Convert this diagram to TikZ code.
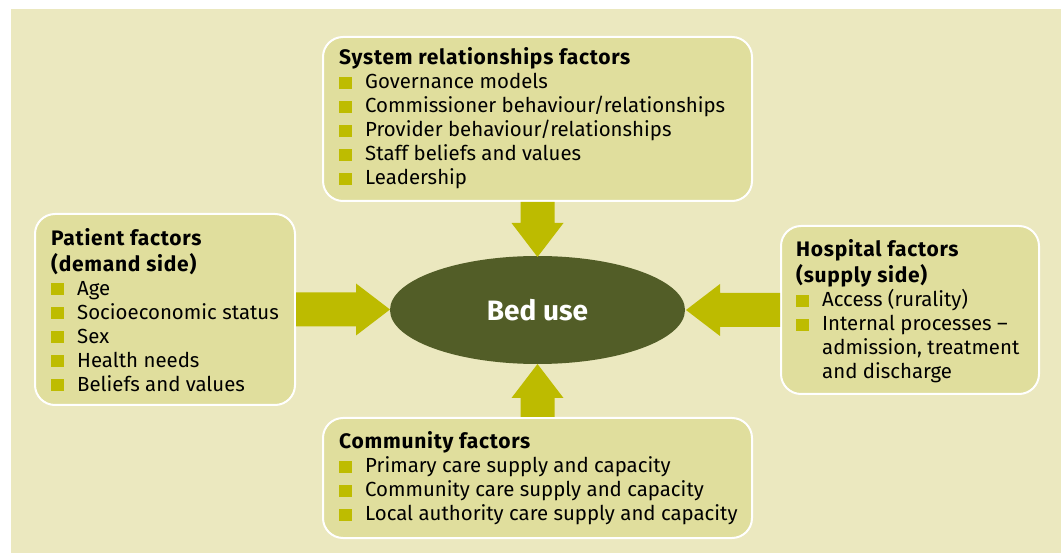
\documentclass[tikz,border=0pt]{standalone}
\usepackage{fontspec}
\setmainfont{Fira Sans}
\usetikzlibrary{shapes.geometric}

\definecolor{pagebg}{HTML}{EBE8BF}
\definecolor{boxfill}{HTML}{E0DE9D}
\definecolor{bulletcol}{HTML}{BEBC00}
\definecolor{arrowcol}{HTML}{BDBB00}
\definecolor{bedcol}{HTML}{525D27}

\newcommand{\bul}{\textcolor{bulletcol}{\rule{13pt}{12pt}}}
\newcommand{\boxtitle}[1]{\multicolumn{2}{@{}l@{}}{\fontsize{21}{24}\selectfont\bfseries\addfontfeature{LetterSpace=3.5}#1}}
% start anchor, angle, shaft length
\newcommand{\blockarrow}[3]{%
  \fill[arrowcol,shift={(#1)},rotate=#2] (0,-17) -- (#3,-17) -- (#3,-26) -- ({#3+34},0)
    -- (#3,26) -- (#3,17) -- (0,17) -- cycle;}

\tikzset{
  factorbox/.style={draw=white, line width=2pt, fill=boxfill, rounded corners=20pt, inner sep=0pt},
  factortext/.style={anchor=base west, inner sep=0pt, font=\fontsize{20.4}{24}\selectfont},
}

\begin{document}
\begin{tikzpicture}[x=1pt,y=-1pt]
  % page and background
  \fill[white] (0,0) rectangle (1061,553);
  \useasboundingbox (0,0) rectangle (1061,553);
  \fill[pagebg] (11,9) rectangle (1061,553);

  % the four boxes
  \node[factorbox, minimum width=429, minimum height=164] (sys) at (537.5,119) {};
  \node[factorbox, minimum width=260, minimum height=191] (pat) at (165,309.5) {};
  \node[factorbox, minimum width=258, minimum height=168] (hos) at (910,310) {};
  \node[factorbox, minimum width=429, minimum height=120] (com) at (537.5,478) {};

  % centre
  \node[ellipse, fill=bedcol, minimum width=295, minimum height=108, inner sep=0pt,
        text=white, font=\fontsize{28}{34}\selectfont\bfseries] (bed) at (537.5,310) {Bed use};

  % arrows into the centre
  \blockarrow{sys.south}{-90}{21}
  \blockarrow{pat.east}{0}{60}
  \blockarrow{hos.west}{180}{60}
  \blockarrow{com.north}{90}{19}

  % texts
  \node[factortext] (systext) at ([shift={(17,29)}]sys.north west) {%
    \begin{tabular}[t]{@{}l@{\hspace{13pt}}l@{}}
      \boxtitle{System relationships factors}\\
      \bul & Governance models\\
      \bul & Commissioner behaviour/relationships\\
      \bul & Provider behaviour/relationships\\
      \bul & Staff beliefs and values\\
      \bul & Leadership
    \end{tabular}};
  \node[factortext] (pattext) at ([shift={(17,33)}]pat.north west) {%
    \begin{tabular}[t]{@{}l@{\hspace{13pt}}l@{}}
      \boxtitle{Patient factors}\\
      \boxtitle{(demand side)}\\
      \bul & Age\\
      \bul & Socioeconomic status\\
      \bul & Sex\\
      \bul & Health needs\\
      \bul & Beliefs and values
    \end{tabular}};
  \node[factortext] (hostext) at ([shift={(16,32)}]hos.north west) {%
    \begin{tabular}[t]{@{}l@{\hspace{13pt}}l@{}}
      \boxtitle{Hospital factors}\\
      \boxtitle{(supply side)}\\
      \bul & Access (rurality)\\
      \bul & Internal processes –\\
           & admission, treatment\\
           & and discharge
    \end{tabular}};
  \node[factortext] (comtext) at ([shift={(17,32)}]com.north west) {%
    \begin{tabular}[t]{@{}l@{\hspace{13pt}}l@{}}
      \boxtitle{Community factors}\\
      \bul & Primary care supply and capacity\\
      \bul & Community care supply and capacity\\
      \bul & Local authority care supply and capacity
    \end{tabular}};
\end{tikzpicture}
\end{document}
